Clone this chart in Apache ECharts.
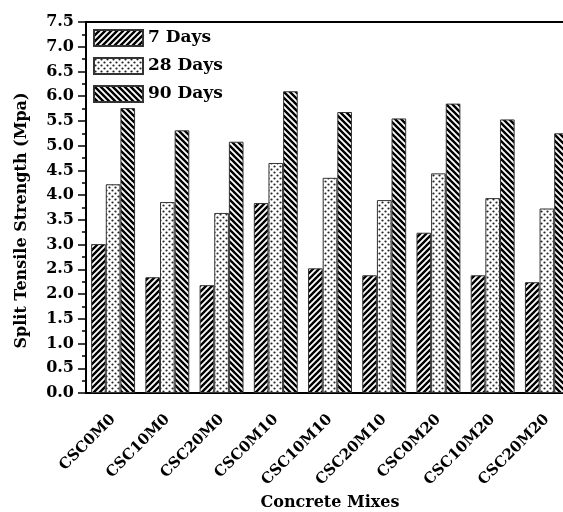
<!DOCTYPE html>
<html lang="en">
<head>
    <meta charset="utf-8">
    <title>Split Tensile Strength</title>
    <script src="https://cdn.jsdelivr.net/npm/echarts@6/dist/echarts.min.js"></script>
    <style>
        html, body { margin: 0; padding: 0; background: #fff; }
        #main { width: 563px; height: 512px; }
    </style>
</head>
<body>
<div id="main"></div>
<script>
    // data
    var mixes = ['CSC0M0', 'CSC10M0', 'CSC20M0', 'CSC0M10', 'CSC10M10', 'CSC20M10', 'CSC0M20', 'CSC10M20', 'CSC20M20'];
    var days7 = [3.01, 2.34, 2.18, 3.84, 2.52, 2.38, 3.24, 2.38, 2.24];
    var days28 = [4.22, 3.86, 3.64, 4.65, 4.35, 3.90, 4.44, 3.94, 3.73];
    var days90 = [5.76, 5.31, 5.08, 6.10, 5.68, 5.55, 5.85, 5.53, 5.25];
    var seriesNames = ['7 Days', '28 Days', '90 Days'];

    var font = 'DejaVu Serif';

    // hatch tiles drawn on small canvases
    function hatch(dir) {
        var c = document.createElement('canvas');
        c.width = 6; c.height = 6;
        var ctx = c.getContext('2d');
        ctx.fillStyle = '#fff';
        ctx.fillRect(0, 0, 6, 6);
        ctx.strokeStyle = '#000';
        ctx.lineWidth = 2.4;
        ctx.beginPath();
        if (dir === '/') {
            ctx.moveTo(-1, 7); ctx.lineTo(7, -1);
            ctx.moveTo(-1, 1); ctx.lineTo(1, -1);
            ctx.moveTo(5, 7); ctx.lineTo(7, 5);
        } else {
            ctx.moveTo(-1, -1); ctx.lineTo(7, 7);
            ctx.moveTo(5, -1); ctx.lineTo(7, 1);
            ctx.moveTo(-1, 5); ctx.lineTo(1, 7);
        }
        ctx.stroke();
        return c;
    }
    function dots() {
        var c = document.createElement('canvas');
        c.width = 6; c.height = 6;
        var ctx = c.getContext('2d');
        ctx.fillStyle = '#fff';
        ctx.fillRect(0, 0, 6, 6);
        ctx.fillStyle = '#222';
        ctx.beginPath(); ctx.arc(1.5, 1.5, 1.1, 0, Math.PI * 2); ctx.fill();
        ctx.beginPath(); ctx.arc(4.5, 4.5, 1.1, 0, Math.PI * 2); ctx.fill();
        return c;
    }
    var fills = [hatch('/'), dots(), hatch('\\')];
    var values = [days7, days28, days90];

    var series = [];
    for (var i = 0; i < 3; i++) {
        series.push({
            name: seriesNames[i],
            type: 'bar',
            data: values[i],
            barGap: '0%',
            barCategoryGap: '19%',
            itemStyle: {
                color: { image: fills[i], repeat: 'repeat' },
                borderColor: '#333',
                borderWidth: 1
            }
        });
    }

    var chart = echarts.init(document.getElementById('main'));
    var option = {
        animation: false,
        backgroundColor: '#fff',
        grid: {
            left: 86, top: 22, width: 488, height: 371,
            outerBoundsMode: 'none',
            show: true, borderColor: '#000', borderWidth: 2
        },
        legend: {
            orient: 'vertical',
            left: 88, top: 24,
            icon: 'rect',
            itemWidth: 49, itemHeight: 16, itemGap: 10,
            data: seriesNames,
            textStyle: { fontFamily: font, fontWeight: 'bold', fontSize: 17, color: '#000' }
        },
        xAxis: [{
            type: 'category',
            data: mixes,
            axisLine: { lineStyle: { color: '#000', width: 2 } },
            axisTick: { alignWithLabel: true, length: 7, lineStyle: { color: '#000', width: 1.5 } },
            axisLabel: {
                rotate: 45, margin: 24, interval: 0,
                fontFamily: font, fontWeight: 'bold', fontSize: 15, color: '#000'
            },
            name: 'Concrete Mixes',
            nameLocation: 'middle',
            nameGap: 91,
            nameTextStyle: { fontFamily: font, fontWeight: 'bold', fontSize: 16, color: '#000' }
        }, {
            // short ticks on the category boundaries
            type: 'category',
            position: 'bottom',
            data: mixes,
            axisLine: { show: false },
            axisTick: { length: 4, lineStyle: { color: '#000', width: 1.5 } },
            axisLabel: { show: false }
        }],
        yAxis: {
            type: 'value',
            min: 0, max: 7.5, interval: 0.5,
            splitLine: { show: false },
            axisLine: { show: true, lineStyle: { color: '#000', width: 2 } },
            axisTick: { show: true, length: 8, lineStyle: { color: '#000', width: 1.5 } },
            minorTick: { show: true, splitNumber: 2, length: 4, lineStyle: { color: '#000', width: 1.5 } },
            axisLabel: {
                margin: 12,
                fontFamily: font, fontWeight: 'bold', fontSize: 16, color: '#000',
                formatter: function (v) { return v.toFixed(1); }
            },
            name: 'Split Tensile Strength (Mpa)',
            nameLocation: 'middle',
            nameGap: 56,
            nameTextStyle: {
                fontFamily: font, fontWeight: 'bold', fontSize: 16, color: '#000',
                padding: [0, 26, 0, 0]
            }
        },
        series: series
    };
    chart.setOption(option);
</script>
</body>
</html>
